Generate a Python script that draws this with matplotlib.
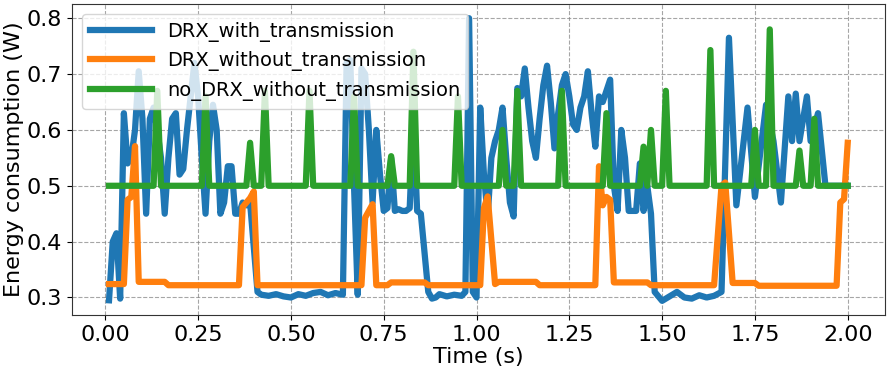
import matplotlib
matplotlib.use("Agg")
import matplotlib.pyplot as plt

# ---- data ----
t_with = [0.01, 0.02, 0.03, 0.04, 0.05, 0.06, 0.07, 0.08, 0.09, 0.10, 0.11, 0.12, 0.13, 0.14, 0.15, 0.16,
          0.17, 0.18, 0.19, 0.20, 0.21, 0.22, 0.23, 0.24, 0.25, 0.26, 0.27, 0.28, 0.29, 0.30, 0.31, 0.32,
          0.33, 0.34, 0.35, 0.36, 0.37, 0.38, 0.39, 0.41, 0.42, 0.44, 0.46, 0.48, 0.50, 0.52, 0.54, 0.56,
          0.58, 0.60, 0.62, 0.64, 0.65, 0.66, 0.67, 0.68, 0.69, 0.70, 0.71, 0.72, 0.73, 0.74, 0.75, 0.76,
          0.77, 0.78, 0.79, 0.80, 0.81, 0.82, 0.83, 0.84, 0.85, 0.86, 0.87, 0.88, 0.89, 0.90, 0.92, 0.94,
          0.96, 0.97, 0.98, 0.99, 1.00, 1.01, 1.02, 1.03, 1.04, 1.05, 1.06, 1.07, 1.08, 1.09, 1.10, 1.11,
          1.12, 1.13, 1.14, 1.15, 1.16, 1.17, 1.18, 1.19, 1.20, 1.21, 1.22, 1.23, 1.24, 1.25, 1.26, 1.27,
          1.28, 1.29, 1.30, 1.31, 1.32, 1.33, 1.34, 1.35, 1.36, 1.37, 1.38, 1.39, 1.40, 1.41, 1.42, 1.43,
          1.44, 1.45, 1.46, 1.47, 1.48, 1.50, 1.52, 1.54, 1.56, 1.58, 1.60, 1.62, 1.64, 1.66, 1.68, 1.70,
          1.73, 1.75, 1.78, 1.80, 1.82, 1.84, 1.85, 1.86, 1.87, 1.89, 1.90, 1.92, 1.94, 2.00]
e_with = [0.295, 0.40, 0.415, 0.298, 0.63, 0.54, 0.55, 0.60, 0.705, 0.62, 0.45, 0.62, 0.64, 0.60, 0.55, 0.45,
          0.55, 0.62, 0.63, 0.52, 0.53, 0.60, 0.66, 0.72, 0.66, 0.55, 0.45, 0.58, 0.645, 0.60, 0.45, 0.47,
          0.535, 0.535, 0.45, 0.45, 0.47, 0.465, 0.47, 0.31, 0.305, 0.303, 0.306, 0.302, 0.300, 0.306, 0.303, 0.308,
          0.310, 0.304, 0.308, 0.305, 0.72, 0.725, 0.50, 0.305, 0.71, 0.70, 0.60, 0.47, 0.60, 0.52, 0.455, 0.46,
          0.55, 0.455, 0.458, 0.455, 0.455, 0.46, 0.62, 0.455, 0.45, 0.38, 0.31, 0.298, 0.300, 0.306, 0.302, 0.305,
          0.303, 0.31, 0.80, 0.31, 0.30, 0.64, 0.52, 0.445, 0.55, 0.58, 0.60, 0.64, 0.55, 0.47, 0.445, 0.675,
          0.66, 0.71, 0.64, 0.58, 0.55, 0.62, 0.68, 0.715, 0.65, 0.567, 0.63, 0.68, 0.70, 0.66, 0.61, 0.60,
          0.64, 0.66, 0.705, 0.63, 0.57, 0.66, 0.65, 0.67, 0.69, 0.50, 0.455, 0.60, 0.55, 0.455, 0.455, 0.455,
          0.54, 0.455, 0.50, 0.45, 0.31, 0.294, 0.302, 0.310, 0.300, 0.298, 0.304, 0.300, 0.303, 0.31, 0.765, 0.465,
          0.64, 0.48, 0.645, 0.58, 0.47, 0.66, 0.58, 0.665, 0.58, 0.66, 0.58, 0.63, 0.50, 0.50]

t_without = [0.01, 0.05, 0.06, 0.07, 0.08, 0.09, 0.16, 0.17, 0.36, 0.37, 0.38, 0.39, 0.40, 0.41, 0.69, 0.70,
             0.71, 0.72, 0.73, 0.76, 0.77, 0.86, 0.87, 1.01, 1.02, 1.03, 1.05, 1.06, 1.16, 1.17, 1.32, 1.33,
             1.34, 1.35, 1.36, 1.37, 1.46, 1.47, 1.64, 1.66, 1.67, 1.69, 1.75, 1.76, 1.97, 1.98, 1.99, 2.00]
e_without = [0.324, 0.324, 0.475, 0.48, 0.571, 0.328, 0.328, 0.322, 0.322, 0.462, 0.47, 0.478, 0.49, 0.322, 0.322, 0.443,
             0.455, 0.467, 0.322, 0.322, 0.327, 0.327, 0.322, 0.322, 0.46, 0.481, 0.324, 0.328, 0.328, 0.322, 0.322, 0.535,
             0.465, 0.48, 0.475, 0.327, 0.327, 0.322, 0.322, 0.50, 0.506, 0.326, 0.326, 0.321, 0.321, 0.470, 0.476, 0.577]

t_nodrx = [0.01, 0.13, 0.14, 0.15, 0.26, 0.27, 0.28, 0.38, 0.39, 0.40, 0.42, 0.43, 0.44, 0.54, 0.55, 0.56,
           0.66, 0.67, 0.68, 0.76, 0.77, 0.78, 0.82, 0.83, 0.84, 0.94, 0.95, 0.96, 1.06, 1.07, 1.08, 1.10,
           1.11, 1.12, 1.22, 1.23, 1.24, 1.34, 1.35, 1.36, 1.44, 1.45, 1.46, 1.47, 1.48, 1.50, 1.51, 1.52,
           1.62, 1.63, 1.64, 1.74, 1.75, 1.76, 1.78, 1.79, 1.80, 1.86, 1.87, 1.88, 1.90, 1.91, 1.92, 2.00]
e_nodrx = [0.50, 0.50, 0.67, 0.50, 0.50, 0.66, 0.50, 0.50, 0.577, 0.50, 0.50, 0.67, 0.50, 0.50, 0.67, 0.50,
           0.50, 0.66, 0.50, 0.50, 0.553, 0.50, 0.50, 0.74, 0.50, 0.50, 0.66, 0.50, 0.50, 0.60, 0.50, 0.50,
           0.67, 0.50, 0.50, 0.67, 0.50, 0.50, 0.63, 0.50, 0.50, 0.57, 0.50, 0.60, 0.50, 0.50, 0.67, 0.50,
           0.50, 0.743, 0.50, 0.50, 0.60, 0.50, 0.50, 0.78, 0.50, 0.50, 0.563, 0.50, 0.50, 0.62, 0.50, 0.50]

labels = ["DRX_with_transmission", "DRX_without_transmission", "no_DRX_without_transmission"]
x_ticks = [0.00, 0.25, 0.50, 0.75, 1.00, 1.25, 1.50, 1.75, 2.00]
y_ticks = [0.3, 0.4, 0.5, 0.6, 0.7, 0.8]

fig = plt.figure(figsize=(8.9, 3.71), dpi=100)
ax = fig.add_axes([0.081, 0.151, 0.913, 0.838])

lw = 4.5
ax.plot(t_with, e_with, color="#1f77b4", lw=lw, label=labels[0])
ax.plot(t_without, e_without, color="#ff7f0e", lw=lw, label=labels[1])
ax.plot(t_nodrx, e_nodrx, color="#2ca02c", lw=lw, label=labels[2])

ax.set_xticks(x_ticks)
ax.set_xticklabels([f"{v:.2f}" for v in x_ticks])
ax.set_yticks(y_ticks)
ax.set_yticklabels([f"{v:.1f}" for v in y_ticks])
ax.tick_params(labelsize=16)
ax.set_xlabel("Time (s)", fontsize=16, labelpad=2)
ax.set_ylabel("Energy consumption (W)", fontsize=16, labelpad=2)
ax.grid(True, linestyle="--", color="gray", alpha=0.7, lw=0.8)
for s in ax.spines.values():
    s.set_color("#333333")

ax.legend(loc="upper left", fontsize=14, handlelength=3.2)

fig.savefig("out.png", dpi=100)
